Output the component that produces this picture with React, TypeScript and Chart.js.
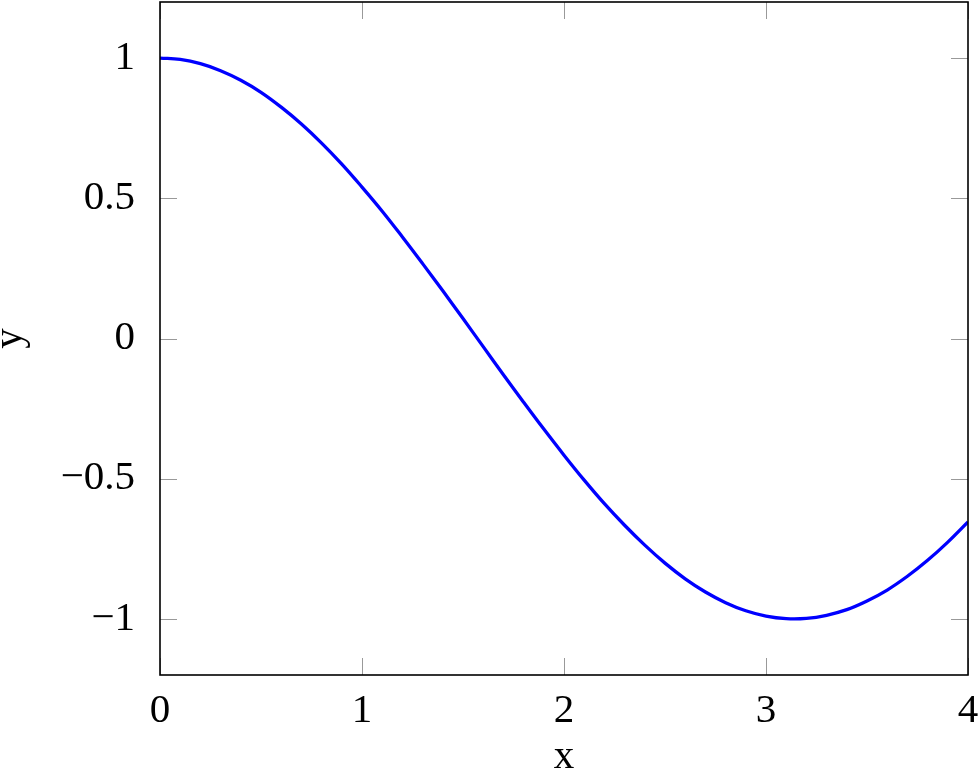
import React, { useEffect, useRef } from "react";
import { Chart, registerables } from "chart.js";

Chart.register(...registerables);

const xValues = [0, 0.1, 0.2, 0.3, 0.4, 0.5, 0.6, 0.7, 0.8, 0.9, 1.0, 1.1, 1.2, 1.3, 1.4, 1.5, 1.6, 1.7, 1.8, 1.9, 2.0, 2.1, 2.2, 2.3, 2.4, 2.5, 2.6, 2.7, 2.8, 2.9, 3.0, 3.1, 3.2, 3.3, 3.4, 3.5, 3.6, 3.7, 3.8, 3.9, 4.0];
const yValues = [1, 0.995, 0.98, 0.955, 0.921, 0.878, 0.825, 0.765, 0.697, 0.622, 0.54, 0.454, 0.362, 0.267, 0.17, 0.071, -0.029, -0.129, -0.227, -0.323, -0.416, -0.505, -0.589, -0.666, -0.737, -0.801, -0.857, -0.904, -0.942, -0.971, -0.99, -0.999, -0.998, -0.987, -0.967, -0.936, -0.897, -0.848, -0.791, -0.726, -0.654];
const xTicks = [0, 1, 2, 3, 4];
const yTicks = [-1, -0.5, 0, 0.5, 1];

const FONT = "'Liberation Serif', 'Times New Roman', serif";
const FS = 41;

function fmt(v: number): string {
  const s = String(v);
  return s.startsWith("-") ? "\u2212" + s.slice(1) : s;
}

const frame = {
  id: "frame",
  beforeDatasetsDraw(chart: any) {
    const { ctx, chartArea: a, scales } = chart;
    const L = 17;
    ctx.save();
    ctx.strokeStyle = "#999";
    ctx.lineWidth = 1;
    ctx.beginPath();
    for (const t of xTicks) {
      const p = Math.round(scales.x.getPixelForValue(t)) + 0.5;
      ctx.moveTo(p, a.bottom); ctx.lineTo(p, a.bottom - L);
      ctx.moveTo(p, a.top); ctx.lineTo(p, a.top + L);
    }
    for (const t of yTicks) {
      const p = Math.round(scales.y.getPixelForValue(t)) + 0.5;
      ctx.moveTo(a.left, p); ctx.lineTo(a.left + L, p);
      ctx.moveTo(a.right, p); ctx.lineTo(a.right - L, p);
    }
    ctx.stroke();
    ctx.restore();
  },
  afterDatasetsDraw(chart: any) {
    const { ctx, chartArea: a } = chart;
    ctx.save();
    ctx.strokeStyle = "#000";
    ctx.lineWidth = 1.6;
    ctx.strokeRect(a.left, a.top, a.right - a.left, a.bottom - a.top);
    ctx.restore();
  },
};

export default function App() {
  const ref = useRef<HTMLCanvasElement>(null);
  useEffect(() => {
    document.body.style.margin = "0";
    const chart = new Chart(ref.current!, {
      type: "line",
      data: {
        datasets: [
          {
            data: xValues.map((x, i) => ({ x, y: yValues[i] })),
            borderColor: "rgb(0,0,255)",
            borderWidth: 3.3,
            pointRadius: 0,
            tension: 0.4,
            fill: false,
          },
        ],
      },
      options: {
        animation: false,
        responsive: false,
        layout: { padding: { top: 2, right: 11, left: 0, bottom: 0 } },
        plugins: { legend: { display: false }, tooltip: { enabled: false } },
        scales: {
          x: {
            type: "linear",
            min: 0,
            max: 4,
            afterBuildTicks: (s: any) => { s.ticks = xTicks.map((v) => ({ value: v })); },
            afterFit: (s: any) => { s.height = 94; s.paddingLeft = 0; s.paddingRight = 0; },
            grid: { display: false },
            border: { display: false },
            ticks: { color: "#000", font: { family: FONT, size: FS }, padding: 4, maxRotation: 0, callback: (v: any) => fmt(v) },
            title: { display: true, text: "x", color: "#000", font: { family: FONT, size: FS }, padding: { top: 0, bottom: -13 } },
          },
          y: {
            type: "linear",
            min: -1.2,
            max: 1.2,
            afterBuildTicks: (s: any) => { s.ticks = yTicks.map((v) => ({ value: v })); },
            afterFit: (s: any) => { s.width = 160; s.paddingTop = 0; s.paddingBottom = 0; },
            grid: { display: false },
            border: { display: false },
            ticks: { color: "#000", font: { family: FONT, size: FS }, padding: 17, callback: (v: any) => fmt(v) },
            title: { display: true, text: "y", color: "#000", font: { family: FONT, size: FS }, padding: { top: -14, bottom: 0 } },
          },
        },
      },
      plugins: [frame],
    });
    return () => chart.destroy();
  }, []);
  return <canvas ref={ref} width={979} height={769} style={{ display: "block" }} />;
}
